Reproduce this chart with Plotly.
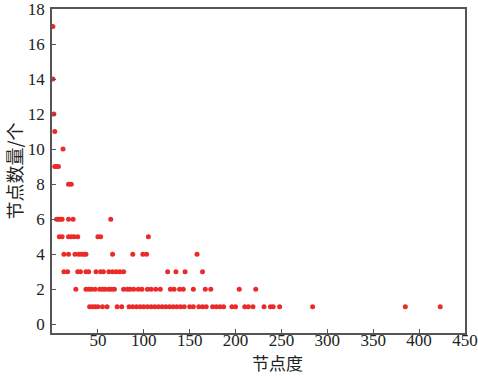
import plotly.graph_objects as go

# node degree (x) values grouped by node count (y)
rows = {
    17: [1],
    14: [1],
    12: [2],
    11: [3],
    10: [12],
    9: [3, 5, 7],
    8: [18, 21],
    6: [5, 7, 9, 11, 18, 23, 64],
    5: [8, 11, 18, 21, 24, 28, 50, 53, 105],
    4: [13, 18, 25, 29, 32, 35, 37, 66, 88, 99, 103, 158],
    3: [13, 17, 28, 31, 37, 40, 48, 53, 56, 62, 66, 70, 74, 78, 126, 135, 145, 164],
    2: [26, 37, 40, 43, 47, 52, 55, 58, 62, 65, 68, 78, 82, 85, 89, 94, 98, 104, 108,
        113, 118, 129, 133, 139, 143, 154, 167, 173, 204, 222],
    1: [41, 44, 47, 50, 55, 60, 71, 76, 84, 88, 92, 96, 100, 104, 108, 112, 116, 120,
        124, 128, 132, 136, 140, 144, 150, 154, 160, 164, 168, 175, 179, 183, 187, 196,
        200, 210, 214, 219, 231, 238, 241, 248, 284, 385, 423],
}
degree = [x for y, xs in rows.items() for x in xs]
count = [y for y, xs in rows.items() for x in xs]

x_ticks = [50, 100, 150, 200, 250, 300, 350, 400, 450]
y_ticks = [0, 2, 4, 6, 8, 10, 12, 14, 16, 18]
x_title = "节点度"
y_title = "节点数量/个"

fig = go.Figure(go.Scatter(
    x=degree, y=count, mode="markers",
    marker=dict(color="#ec2a2a", size=5, line=dict(width=0)),
    showlegend=False,
))

axis_common = dict(
    showgrid=False, zeroline=False, showline=True, linecolor="#555555", linewidth=1.5,
    mirror=True, ticks="inside", ticklen=4, tickwidth=1, tickcolor="#555555",
    tickfont=dict(family="Liberation Serif, serif", size=17, color="#222222"),
    ticklabeloverflow="allow", automargin=False,
)
fig.update_xaxes(range=[0, 450], tickvals=x_ticks, ticklabelstandoff=-9, **axis_common)
fig.update_yaxes(range=[-0.5, 18], tickvals=y_ticks, ticklabelstandoff=2, **axis_common)

title_font = dict(family="Noto Sans CJK SC", size=17, color="#222222")
fig.add_annotation(text=x_title, xref="paper", yref="paper", x=0.547, y=-0.092,
                   showarrow=False, font=title_font, xanchor="center", yanchor="middle")
fig.add_annotation(text=y_title, xref="paper", yref="paper", x=-0.093, y=0.5,
                   showarrow=False, font=dict(title_font, size=18), textangle=-90,
                   xanchor="center", yanchor="middle")
fig.update_layout(
    width=478, height=377,
    margin=dict(l=52, r=13, t=9, b=44),
    paper_bgcolor="white", plot_bgcolor="white",
)
fig.write_html("out.html")
